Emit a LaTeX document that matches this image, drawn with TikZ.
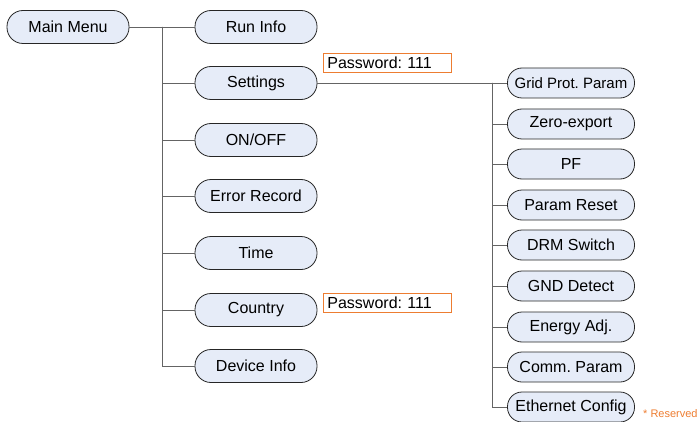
\documentclass[tikz,border=0pt]{standalone}
\usepackage{fontspec}
\setmainfont{Liberation Sans}
\usepackage{xcolor}
\usepackage{tikz}
\definecolor{MenuFill}{RGB}{230,236,248}
\definecolor{Amber}{RGB}{237,125,49}
\definecolor{Wire}{RGB}{100,100,100}
\frenchspacing

\tikzset{
  menubox/.style={draw=black!85,line width=0.8pt,fill=MenuFill,
        rounded corners=16pt,minimum width=122pt,minimum height=33pt,
        inner sep=0pt,font=\fontsize{16}{18}\selectfont},
  subbox/.style={draw=black!85,line width=0.8pt,fill=MenuFill,
        rounded corners=14.5pt,minimum width=127pt,minimum height=30pt,
        inner sep=0pt,font=\fontsize{16}{18}\selectfont},
  pwbox/.style={draw=Amber,line width=0.8pt,fill=white,anchor=west,
        text width=120pt,align=left,inner xsep=4pt,inner ysep=0pt,minimum height=19pt,
        font=\fontsize{16}{18}\selectfont},
  wire/.style={draw=Wire,line width=0.9pt}
}

\begin{document}
\begin{tikzpicture}[x=1pt,y=-1pt]
  \useasboundingbox (0,0) rectangle (700,422);

  \node[menubox] (main) at (68,27) {Main Menu};

  \node[menubox] (run)  at (256,27)  {Run Info};
  \node[menubox] (set)  at (256,83)  {Settings};
  \node[menubox] (onoff) at (256,140) {ON/OFF};
  \node[menubox] (err)  at (256,196) {Error Record};
  \node[menubox] (time) at (256,253) {Time};
  \node[menubox] (ctry) at (256,310) {Country};
  \node[menubox] (dev)  at (256,366) {Device Info};

  \node[pwbox] (pw1) at (323,62.5)  {Password: 111};
  \node[pwbox] (pw2) at (323,302.5) {Password: 111};

  \node[subbox,font=\fontsize{15}{17}\selectfont] (grid) at (571,83) {Grid Prot. Param};
  \node[subbox] (zero) at (571,124) {Zero-export};
  \node[subbox] (pf)   at (571,164) {PF};
  \node[subbox] (reset) at (571,205) {Param Reset};
  \node[subbox] (drm)  at (571,245) {DRM Switch};
  \node[subbox] (gnd)  at (571,286) {GND Detect};
  \node[subbox] (eadj) at (571,327) {Energy Adj.};
  \node[subbox] (comm) at (571,367) {Comm. Param};
  \node[subbox] (eth)  at (571,407) {Ethernet Config};

  \node[anchor=west,text=Amber,inner sep=0pt,font=\fontsize{11}{13}\selectfont]
    (resv) at (643,414) {* Reserved};

  % connectors
  \coordinate (trunkA) at (162,27);
  \coordinate (trunkB) at (492,83);
  \draw[wire] (main.east) -- (run.west);
  \foreach \n in {set,onoff,err,time,ctry,dev}
    \draw[wire] (trunkA) |- (\n.west);
  \draw[wire] (set.east) -- (grid.west);
  \foreach \n in {zero,pf,reset,drm,gnd,eadj,comm,eth}
    \draw[wire] (trunkB) |- (\n.west);
\end{tikzpicture}
\end{document}
